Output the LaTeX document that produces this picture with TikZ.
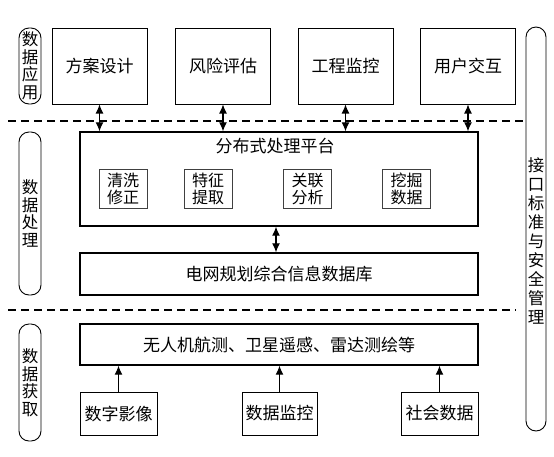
\documentclass[tikz,border=0pt]{standalone}
\usepackage{fontspec}
\setmainfont{Noto Sans CJK SC}
\usetikzlibrary{arrows.meta}

\begin{document}
\begin{tikzpicture}[x=1pt, y=-1pt, font=\fontsize{17}{17.5}\selectfont,
    box/.style={draw, line width=1pt, inner sep=0pt, align=center},
    layer/.style={box, line width=1.4pt, minimum width=398pt},
    sub/.style={draw=black!75, line width=.8pt, minimum width=48pt, minimum height=39pt,
                inner sep=0pt, align=center, font=\fontsize{16}{17}\selectfont},
    side/.style={draw, line width=.9pt, rounded corners=10pt, inner sep=0pt,
                 minimum width=22pt, align=center, font=\fontsize{16.5}{17.5}\selectfont},
    both/.style={{Latex[length=9pt,width=8pt]}-{Latex[length=9pt,width=8pt]}, line width=1.1pt},
    up/.style={-{Latex[length=9pt,width=8pt]}, line width=1.1pt},
    sep/.style={dash pattern=on 8pt off 5pt, line width=1.1pt}]
  \useasboundingbox (0,0) rectangle (554,456);

  % data application
  \node(app-1)[box, minimum width=95pt, minimum height=76pt] at (99.5,66) {方案设计};
  \node(app-2)[box, minimum width=95pt, minimum height=76pt] at (223,66) {风险评估};
  \node(app-3)[box, minimum width=95pt, minimum height=76pt] at (345.5,66) {工程监控};
  \node(app-4)[box, minimum width=95pt, minimum height=76pt] at (468,66) {用户交互};

  % data processing
  \node(plat)[layer, minimum height=94pt] at (279,179) {};
  \node(plat-title) at (275,146) {分布式处理平台};
  \node(proc-1)[sub] at (123,188.5) {清洗\\修正};
  \node(proc-2)[sub] at (208,188.5) {特征\\提取};
  \node(proc-3)[sub] at (307.5,188.5) {关联\\分析};
  \node(proc-4)[sub] at (406.5,188.5) {挖掘\\数据};
  \node(db)[layer, minimum height=42pt] at (279,274) {电网规划综合信息数据库};

  % data acquisition
  \node(acq)[layer, minimum height=41pt] at (279,344.5) {无人机航测、卫星遥感、雷达测绘等};
  \node(src-1)[box, minimum width=77pt, minimum height=43pt] at (118.5,413.5) {数字影像};
  \node(src-2)[box, minimum width=75pt, minimum height=43pt] at (279.5,413.5) {数据监控};
  \node(src-3)[box, minimum width=77pt, minimum height=43pt] at (439.5,413.5) {社会数据};

  \draw[both] (app-1.south) -- (app-1.south |- plat.north);
  \draw[both] (app-2.south) -- (app-2.south |- plat.north);
  \draw[both] (app-3.south) -- (app-3.south |- plat.north);
  \draw[both] (app-4.south) -- (app-4.south |- plat.north);
  \draw[both] ([xshift=-3pt]plat.south) -- ([xshift=-3pt]db.north);
  \draw[up] (src-1.north) -- (src-1.north |- acq.south);
  \draw[up] (src-2.north) -- (src-2.north |- acq.south);
  \draw[up] (src-3.north) -- (src-3.north |- acq.south);

  % layer labels
  \node(lbl-app)[side, minimum height=76pt] at (30,66) {数\\据\\应\\用};
  \node(lbl-proc)[side, minimum height=163pt] at (30,213.5) {数\\据\\处\\理};
  \node(lbl-acq)[side, minimum height=117pt] at (30,382.5) {数\\据\\获\\取};
  \node(lbl-std)[side, minimum width=20pt, minimum height=404pt] at (536,229) {};
  \node(lbl-std-text)[align=center, font=\fontsize{16.5}{19}\selectfont] at (536,241)
    {接\\口\\标\\准\\与\\安\\全\\管\\理};

  % layer borders
  \coordinate(sep-1-l) at (8,121);
  \coordinate(sep-1-r) at (525,121);
  \coordinate(sep-2-l) at (8,310);
  \coordinate(sep-2-r) at (516,310);
  \draw[sep] (sep-1-l) -- (sep-1-r);
  \draw[sep] (sep-2-l) -- (sep-2-r);
\end{tikzpicture}
\end{document}
